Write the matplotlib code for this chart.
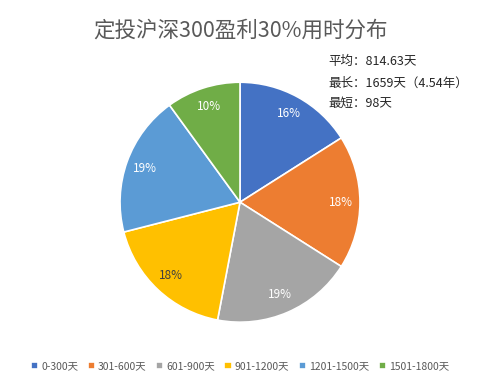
import matplotlib

matplotlib.use("Agg")
import matplotlib.pyplot as plt

plt.rcParams["font.family"] = ["Noto Sans CJK SC", "DejaVu Sans"]

TITLE = "定投沪深300盈利30%用时分布"
categories = ["0-300天", "301-600天", "601-900天", "901-1200天", "1201-1500天", "1501-1800天"]
shares = [16, 18, 19, 18, 19, 10]
stats_lines = ["平均：814.63天", "最长：1659天（4.54年）", "最短：98天"]

COLORS = ["#4472C4", "#ED7D31", "#A5A5A5", "#FFC000", "#5B9BD5", "#70AD47"]
LABEL_COLORS = ["white", "white", "white", "#404040", "white", "white"]

fig = plt.figure(figsize=(4.8, 3.87), dpi=100)
ax = fig.add_axes([0.1875, 0.09, 0.625, 0.775])

wedges, texts, autotexts = ax.pie(
    shares,
    colors=COLORS,
    startangle=90,
    counterclock=False,
    autopct="%d%%",
    pctdistance=0.84,
    wedgeprops={"linewidth": 1.2, "edgecolor": "white"},
    textprops={"fontsize": 8.5},
)
for t, c in zip(autotexts, LABEL_COLORS):
    t.set_color(c)
ax.set_aspect("equal")

fig.text(0.5, 0.922, TITLE, ha="center", va="center", fontsize=15.5, color="#595959")
for i, line in enumerate(stats_lines):
    fig.text(0.685, 0.84 - i * 0.054, line, ha="left", va="center", fontsize=9, color="#262626")

fig.legend(
    wedges,
    categories,
    loc="center",
    bbox_to_anchor=(0.5, 0.054),
    ncol=6,
    frameon=False,
    fontsize=7.5,
    handlelength=0.7,
    handleheight=0.7,
    handletextpad=0.3,
    columnspacing=0.9,
    labelcolor="#595959",
)

fig.savefig("out.png", facecolor="white")
